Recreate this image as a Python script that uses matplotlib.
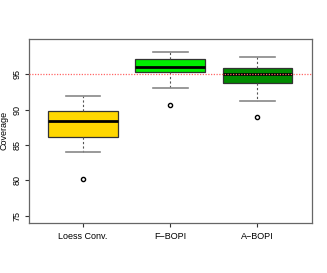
import matplotlib
matplotlib.use("Agg")
import matplotlib.pyplot as plt

plt.rcParams["font.family"] = ["Liberation Sans", "DejaVu Sans"]

categories = ["Loess Conv.", "F\u2212BOPI", "A\u2212BOPI"]
q1 = [86.2, 95.4, 93.8]
median = [88.4, 96.0, 95.1]
q3 = [89.8, 97.2, 95.95]
whislo = [84.0, 93.0, 91.2]
whishi = [92.0, 98.15, 97.4]
outliers = [[80.2], [90.6], [89.0]]
colors = ["#FFD700", "#00EE00", "#008B00"]
ref_level = 95
yticks = [75, 80, 85, 90, 95]

fig = plt.figure(figsize=(3.27, 2.73), dpi=100)
ax = fig.add_axes([29/327, 1 - 222.5/273, (311.5-29)/327, (222.5-39.3)/273])

stats = []
for i in range(len(categories)):
    stats.append(dict(med=median[i], q1=q1[i], q3=q3[i], whislo=whislo[i],
                      whishi=whishi[i], fliers=outliers[i], label=categories[i]))

bp = ax.bxp(stats, positions=range(1, len(categories)+1), widths=0.8,
            patch_artist=True, showfliers=True,
            boxprops=dict(edgecolor="#333333", linewidth=0.9),
            medianprops=dict(color="black", linewidth=2.0),
            whiskerprops=dict(color="#555555", linestyle=(0, (2, 2)), linewidth=0.8),
            capprops=dict(color="#888888", linewidth=1.2),
            capwidths=0.4,
            flierprops=dict(marker="o", markersize=3, markerfacecolor="none",
                            markeredgecolor="black", markeredgewidth=1.0))
for patch, c in zip(bp["boxes"], colors):
    patch.set_facecolor(c)

ax.axhline(ref_level, color="#ff6666", linestyle=(0, (1, 1.2)), linewidth=0.9, zorder=5)

ax.set_xlim(0.38, 3.62)
ax.set_ylim(74.04, 99.96)
ax.set_yticks(yticks)
ax.set_yticklabels([str(t) for t in yticks], rotation=90, va="center")
ax.set_xticks(range(1, len(categories)+1))
ax.set_xticklabels(categories)
ax.tick_params(labelsize=6.5, length=3, width=0.8, color="#333333", pad=2.5)
ax.tick_params(axis="x", pad=4)
ax.set_ylabel("Coverage", fontsize=6.5)
ax.yaxis.set_label_coords(-0.072, 0.5)
for s in ax.spines.values():
    s.set_color("#666666")
    s.set_linewidth(0.9)

fig.savefig("out.png", dpi=100)
